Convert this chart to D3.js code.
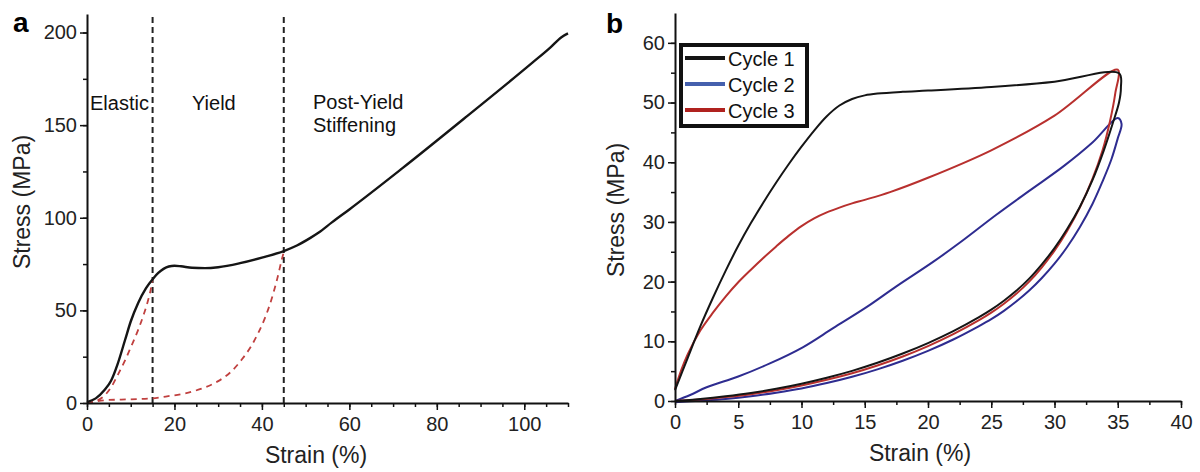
<!DOCTYPE html>
<html>
<head>
<meta charset="utf-8">
<script src="https://cdn.jsdelivr.net/npm/d3@7"></script>
<style>
  body { margin: 0; background: #fff; }
  svg { display: block; font-family: "Liberation Sans", Arial, sans-serif; }
  .axis path, .axis line { stroke: #111; }
  .axis text { font-size: 20px; fill: #222; font-family: "Liberation Sans", Arial, sans-serif; }
</style>
</head>
<body>
<div id="chart"></div>
<script>
// panel a: monotonic tensile test, [strain %, stress MPa]
var tensile = [[0,0.5],[2,2.5],[4,7],[5.5,12],[7,21],[8.7,34],[10,44],[11.7,54],[13.5,62],[15.2,67.4],
  [16.3,70.2],[17.5,72.4],[18.7,73.7],[20,74.1],[21.5,73.8],[24,73],[27,72.8],[30,73.3],[35,75.5],[40,78.5],
  [45,82],[48,85],[51,89],[53,92],[56,97.5],[60,104.5],[72,126.5],[87,155],[102,184],[106,192],[108.5,197.5],[110,199.5]];
var unloadElastic = [[0,0],[2,1],[4,4],[5.6,8.8],[7,15],[8.7,23],[10,30],[11.7,39.5],[13,48],[14,55.7],[14.8,64],[15,67]];
var unloadYield = [[0,0],[4,1.5],[10,2],[14.8,2.5],[18,3.5],[22.4,5.2],[26,7.6],[30,11.8],[33,17],[35.4,23.5],
  [37.5,30.5],[39.2,38],[40.8,46.5],[42.2,56],[43.5,67],[44.5,77],[45,81.5]];
var regionLines = [15, 45];
var regionLabels = [["Elastic"], ["Yield"], ["Post-Yield", "Stiffening"]];

// panel b: cyclic loading, loading branch then unloading branch
var cycleNames = ["Cycle 1", "Cycle 2", "Cycle 3"];
var cycle1 = [[0,1.8],[1,7.2],[2,12.5],[3,17.3],[4,21.8],[5,26],[6,29.8],[7,33.3],[8,36.6],[9,39.7],[10,42.6],
  [11,45.3],[12,47.7],[13,49.5],[14,50.6],[15,51.2],[16,51.5],[18,51.8],[20,52],[25,52.6],[30,53.5],[35.1,54.9],
  [35.25,52.5],[35.1,50],[34.6,46.5],[33.9,42],[33,37],[32,32.5],[31,28.8],[30,25.6],[29,22.9],[28,20.5],
  [27,18.5],[26,16.8],[25,15.3],[24,14],[22,11.7],[20,9.7],[18,7.95],[16,6.4],[14,5.05],[12,3.9],[10,2.9],
  [8,2.05],[6,1.35],[4,0.8],[2,0.35],[0,0]];
var cycle2 = [[0,0],[1.2,1],[2.5,2.3],[5,4.1],[7.5,6.3],[10.1,9],[12.5,12.2],[15.2,15.8],[17.5,19.2],[20.4,23.3],
  [22.5,26.5],[25.4,31.2],[28,35.2],[30.7,39.3],[33,43.3],[35,47.4],
  [35.3,46.4],[35,44],[34.5,40.5],[33.8,36.8],[33,33],[32,29.1],[31,25.8],[30,23],[29,20.6],[28,18.5],
  [27,16.7],[26,15.1],[25,13.7],[24,12.5],[22,10.3],[20,8.4],[18,6.75],[16,5.3],[14,4.05],[12,3],[10,2.1],
  [8,1.4],[6,0.8],[4,0.35],[2,0.05],[0,-0.2]];
var cycle3 = [[0,2],[0.5,5.2],[1,7.8],[2,11.8],[3,14.8],[4,17.5],[5,19.9],[6,22],[7,24],[8,25.9],[9,27.7],[10,29.3],
  [11,30.6],[12,31.6],[13,32.4],[14,33.1],[15,33.7],[17,35],[20,37.4],[25,42],[30,47.8],[35,55.5],
  [34.8,51.5],[34.4,47],[33.8,42],[33,37.2],[32,32.4],[31,28.5],[30,25.2],[29,22.4],[28,20],[27,18],[26,16.3],
  [25,14.8],[24,13.5],[22,11.2],[20,9.2],[18,7.45],[16,5.95],[14,4.65],[12,3.55],[10,2.6],[8,1.8],[6,1.15],
  [4,0.65],[2,0.25],[0,0]];
var cycleColors = ["#151515", "#2e2c90", "#b8302e"];
var legendColors = ["#151515", "#4560ad", "#b0221f"];

var width = 1200, height = 472;
var svg = d3.select("#chart").append("svg").attr("width", width).attr("height", height);

function drawAxes(g, x, y, xMajor, xMinor, yMajor, yMinor) {
  g.append("g").attr("class", "axis").attr("transform", "translate(0," + y.range()[0] + ")")
    .call(d3.axisBottom(x).tickValues(xMinor).tickSize(4).tickFormat(""))
    .call(function(a){ a.select(".domain").remove(); a.selectAll("line").attr("stroke-width", 1.5); });
  g.append("g").attr("class", "axis").attr("transform", "translate(" + x.range()[0] + ",0)")
    .call(d3.axisLeft(y).tickValues(yMinor).tickSize(4).tickFormat(""))
    .call(function(a){ a.select(".domain").remove(); a.selectAll("line").attr("stroke-width", 1.5); });
  g.append("g").attr("class", "axis").attr("transform", "translate(0," + y.range()[0] + ")")
    .call(d3.axisBottom(x).tickValues(xMajor).tickSize(7).tickSizeOuter(0).tickPadding(7).tickFormat(d3.format("d")))
    .call(function(a){ a.select(".domain").attr("stroke-width", 2); a.selectAll("line").attr("stroke-width", 1.5); });
  g.append("g").attr("class", "axis").attr("transform", "translate(" + x.range()[0] + ",0)")
    .call(d3.axisLeft(y).tickValues(yMajor).tickSize(7).tickSizeOuter(0).tickPadding(3).tickFormat(d3.format("d")))
    .call(function(a){ a.select(".domain").attr("stroke-width", 2); a.selectAll("line").attr("stroke-width", 1.5); });
}

// ---------- panel a ----------
var xa = d3.scaleLinear().domain([0, 110]).range([87, 568]);
var ya = d3.scaleLinear().domain([0, 210]).range([403, 14]);
var ga = svg.append("g");

ga.selectAll(".region").data(regionLines).enter().append("line")
  .attr("x1", d => xa(d)).attr("x2", d => xa(d))
  .attr("y1", ya(0)).attr("y2", 16)
  .attr("stroke", "#222").attr("stroke-width", 2).attr("stroke-dasharray", "6,4");

var lineA = d3.line().x(d => xa(d[0])).y(d => ya(d[1])).curve(d3.curveMonotoneX);
[unloadElastic, unloadYield].forEach(function(s) {
  ga.append("path").datum(s).attr("d", lineA).attr("fill", "none")
    .attr("stroke", "#c0403f").attr("stroke-width", 1.8).attr("stroke-dasharray", "6,5");
});
ga.append("path").datum(tensile).attr("d", lineA).attr("fill", "none")
  .attr("stroke", "#151515").attr("stroke-width", 2.4);

drawAxes(ga, xa, ya, d3.range(0, 101, 20), d3.range(0, 111, 5), d3.range(0, 201, 50), d3.range(0, 201, 25));

var labelPos = [[90, 110], [192, 110], [313, 109]];
regionLabels.forEach(function(lines, i) {
  var t = ga.append("text").attr("x", labelPos[i][0]).attr("y", labelPos[i][1])
    .attr("font-size", 20).attr("fill", "#111");
  lines.forEach(function(l, j) {
    t.append("tspan").attr("x", labelPos[i][0]).attr("dy", j ? 23 : 0).text(l);
  });
});

ga.append("text").attr("x", 13).attr("y", 32).attr("font-size", 28).attr("font-weight", "bold").text("a");
ga.append("text").attr("x", 316).attr("y", 463).attr("text-anchor", "middle").attr("font-size", 23).attr("fill", "#222").text("Strain (%)");
ga.append("text").attr("transform", "translate(30,202) rotate(-90)").attr("text-anchor", "middle")
  .attr("font-size", 23).attr("fill", "#222").text("Stress (MPa)");

// ---------- panel b ----------
var xb = d3.scaleLinear().domain([0, 40]).range([675, 1181]);
var yb = d3.scaleLinear().domain([0, 65]).range([401, 13]);
var gb = svg.append("g");

var cycles = [cycle1, cycle2, cycle3];
var lineB = d3.line().x(d => xb(d[0])).y(d => yb(d[1])).curve(d3.curveCatmullRom.alpha(0.5));
[1, 2, 0].forEach(function(i) {
  gb.append("path").datum(cycles[i]).attr("d", lineB).attr("fill", "none")
    .attr("stroke", cycleColors[i]).attr("stroke-width", 2);
});

drawAxes(gb, xb, yb, d3.range(0, 41, 5), d3.range(0, 41, 2.5), d3.range(0, 61, 10), d3.range(0, 61, 5));

// legend
var leg = gb.append("g");
leg.append("rect").attr("x", 681).attr("y", 45).attr("width", 126).attr("height", 81)
  .attr("fill", "#fff").attr("stroke", "#111").attr("stroke-width", 4);
cycleNames.forEach(function(n, i) {
  var yy = 58 + i * 26;
  leg.append("line").attr("x1", 685).attr("x2", 725).attr("y1", yy).attr("y2", yy)
    .attr("stroke", legendColors[i]).attr("stroke-width", 4);
  leg.append("text").attr("x", 728).attr("y", yy + 8).attr("font-size", 20).attr("fill", "#111").text(n);
});

gb.append("text").attr("x", 606).attr("y", 33).attr("font-size", 28).attr("font-weight", "bold").text("b");
gb.append("text").attr("x", 920).attr("y", 461).attr("text-anchor", "middle").attr("font-size", 23).attr("fill", "#222").text("Strain (%)");
gb.append("text").attr("transform", "translate(624,210) rotate(-90)").attr("text-anchor", "middle")
  .attr("font-size", 23).attr("fill", "#222").text("Stress (MPa)");
</script>
</body>
</html>
